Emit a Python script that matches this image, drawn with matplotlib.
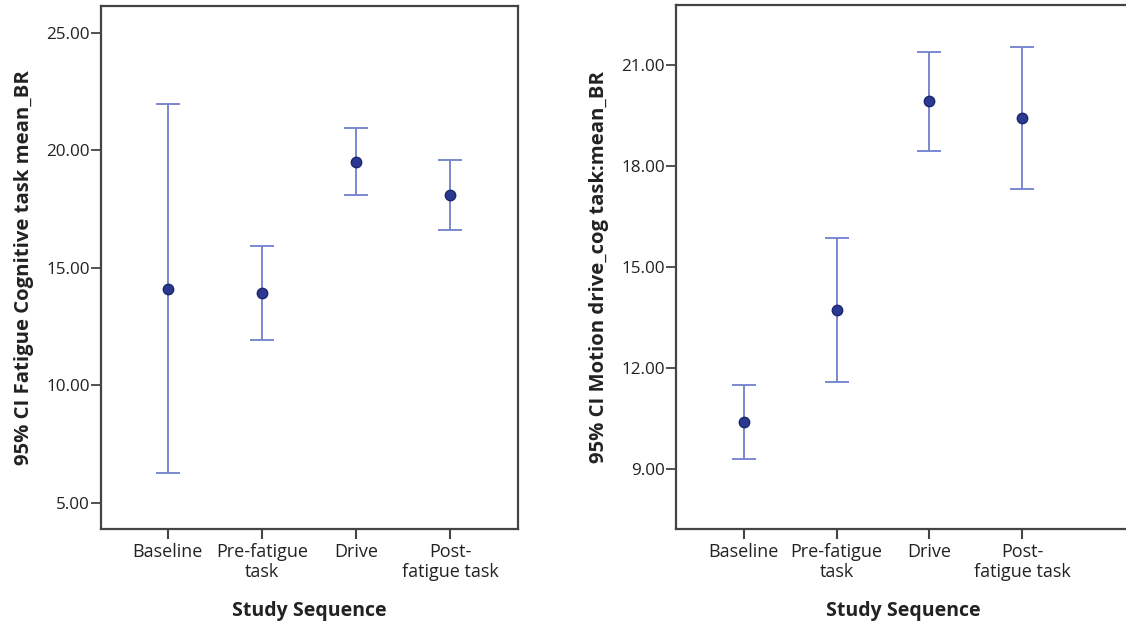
import numpy as np
import matplotlib.pyplot as plt
from matplotlib.ticker import FormatStrFormatter

plt.rcParams['font.family'] = ['Open Sans', 'DejaVu Sans']

# study sequence categories
labels = ['Baseline', 'Pre-fatigue\ntask', 'Drive', 'Post-\nfatigue task']

# left panel: fatigue cognitive task mean_BR
cog_mean = [14.11, 13.94, 19.52, 18.12]
cog_low = [6.29, 11.95, 18.11, 16.63]
cog_high = [21.98, 15.95, 20.97, 19.61]

# right panel: motion drive_cog task mean_BR
mot_mean = [10.41, 13.72, 19.92, 19.44]
mot_low = [9.32, 11.59, 18.46, 17.33]
mot_high = [11.50, 15.87, 21.40, 21.54]

bar_col = '#7080cc'
dot_col = '#2b3990'
spine_col = '#444444'

fig = plt.figure(figsize=(11.26, 6.23), dpi=100)
ax1 = fig.add_axes([101/1126, 94/623, 417/1126, 523/623])
ax2 = fig.add_axes([676/1126, 94/623, 454/1126, 524/623])


def draw(ax, mean, low, high, ylabel, ylim, xlim, ticks):
    x = np.arange(len(mean))
    mean = np.array(mean)
    err = [mean - np.array(low), np.array(high) - mean]
    ax.errorbar(x, mean, yerr=err, fmt='none', ecolor=bar_col,
                elinewidth=1.3, capsize=8.5, capthick=1.3)
    ax.plot(x, mean, 'o', color=dot_col, markersize=7.5,
            markeredgecolor='#1c2670', markeredgewidth=1, zorder=3)
    ax.set_xlim(*xlim)
    ax.set_ylim(*ylim)
    ax.set_yticks(ticks)
    ax.yaxis.set_major_formatter(FormatStrFormatter('%.2f'))
    ax.set_xticks(x)
    ax.set_xticklabels(labels, fontsize=13, color='#222222', linespacing=1.17)
    ax.tick_params(axis='y', labelsize=12.3, labelcolor='#222222', length=7,
                   width=1.3, color=spine_col, pad=1)
    ax.tick_params(axis='x', length=7, width=1.5, color=spine_col, pad=3)
    for s in ax.spines.values():
        s.set_color(spine_col)
        s.set_linewidth(1.6)
    ax.set_xlabel('Study Sequence', fontsize=14, fontweight='bold',
                  color='#222222', labelpad=14)
    ax.set_ylabel(ylabel, fontsize=14.6, fontweight='bold', color='#222222',
                  labelpad=9)


draw(ax1, cog_mean, cog_low, cog_high, '95% CI Fatigue Cognitive task mean_BR',
     (3.89, 26.15), (-0.71, 3.72), [5, 10, 15, 20, 25])
draw(ax2, mot_mean, mot_low, mot_high, '95% CI Motion drive_cog task:mean_BR',
     (7.23, 22.78), (-0.73, 4.16), [9, 12, 15, 18, 21])
# the right panel's box runs off the edge of the picture
ax2.spines['right'].set_visible(False)

fig.savefig('out.png', dpi=100)
